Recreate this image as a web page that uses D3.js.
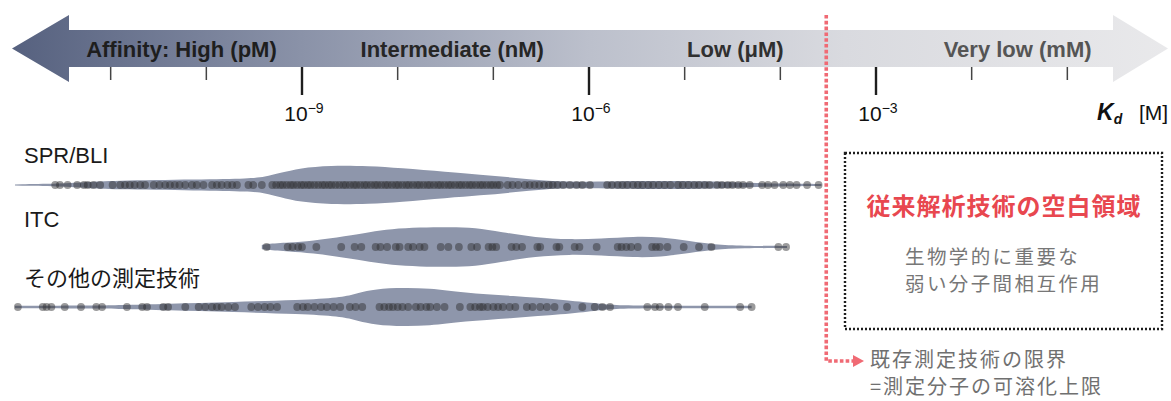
<!DOCTYPE html>
<html><head><meta charset="utf-8">
<script src="https://cdn.jsdelivr.net/npm/d3@7"></script>
<style>body{margin:0;background:#fff} svg{display:block}</style>
</head><body>
<svg id="chart" width="1171" height="401"></svg>
<script>
// ---- data (log10 Kd [M]) ----
const tickExponents = [-11,-10,-9,-8,-7,-6,-5,-4,-3,-2,-1];
const majorExponents = [-9,-6,-3];
const affinityLabels = ["Affinity: High (pM)", "Intermediate (nM)", "Low (μM)", "Very low (mM)"];
const affinityAnchors = [-10.26, -7.43, -4.47, -1.52];
const methods = ["SPR/BLI", "ITC", "その他の測定技術"];
const limitExponent = -3.52;

const sprDots = [-11.58,-11.53,-11.45,-11.35,-11.28,-11.24,-11.18,-11.11,-10.98,-10.90,-10.85,-10.80,-10.75,-10.69,-10.64,-10.55,-10.49,-10.43,-10.38,-10.33,-10.28,-10.22,-10.15,-10.10,-10.03,-9.94,-9.89,-9.84,-9.78,-9.73,-9.68,-9.56,-9.51,-9.42,
 -9.31,-9.27,-9.23,-9.20,-9.16,-9.12,-9.09,-9.05,-9.01,-8.98,-8.94,-8.91,-8.87,-8.83,-8.79,-8.76,-8.72,-8.69,-8.65,-8.61,-8.57,-8.54,-8.50,-8.46,-8.43,-8.39,-8.35,-8.32,-8.28,-8.24,-8.21,-8.17,-8.13,-8.10,-8.06,-8.02,-7.99,-7.95,-7.91,-7.88,-7.84,-7.80,-7.77,-7.73,-7.69,-7.66,-7.62,-7.58,-7.55,-7.51,-7.47,-7.44,-7.40,-7.36,-7.33,-7.29,-7.25,-7.22,-7.18,-7.14,-7.11,-7.07,-7.03,-7.00,-6.96,-6.93,
 -6.85,-6.80,-6.74,-6.67,-6.62,-6.57,-6.52,-6.47,-6.42,-6.38,-6.33,-6.27,-6.20,-6.13,-6.07,-5.99,-5.81,-5.76,-5.70,-5.65,-5.60,-5.54,-5.49,-5.44,-5.38,-5.33,-5.27,-5.21,-5.15,-5.07,-5.02,-4.96,-4.90,-4.85,-4.79,-4.74,-4.66,-4.61,-4.55,-4.50,-4.44,-4.39,-4.32,-4.19,-4.13,-4.06,-3.97,-3.90,-3.83,-3.72,-3.60];
const sprProfileLog = [-12.00,-11.53,-11.22,-11.01,-10.07,-9.54,-9.39,-9.23,-9.02,-8.71,-8.29,-7.98,-7.48,-7.14,-6.79,-6.46,-6.15,-5.68,-5.05,-4.63,-4.32,-4.01,-3.57];
const sprProfile    = [0.03,0.06,0.15,0.22,0.27,0.32,0.40,0.60,0.85,0.98,0.95,0.85,0.65,0.52,0.37,0.20,0.15,0.20,0.21,0.17,0.10,0.07,0.05];

const itcDots = [-9.37,-9.15,-9.10,-9.04,-9.00,-8.85,-8.59,-8.45,-8.38,-8.23,-8.18,-8.11,-8.02,-7.98,-7.89,-7.84,-7.77,-7.72,-7.55,-7.47,-7.36,-7.23,-7.17,-7.05,-7.01,-6.97,-6.81,-6.76,-6.70,-6.54,-6.51,-6.34,-6.31,-6.15,-6.10,-5.92,-5.70,-5.66,-5.61,-5.56,-5.49,-5.34,-5.30,-5.26,-5.18,-5.01,-4.85,-4.72,-4.02,-3.94];
const itcProfileLog = [-9.42,-9.39,-9.13,-8.90,-8.54,-8.29,-8.07,-7.77,-7.45,-7.19,-6.92,-6.56,-6.20,-5.88,-5.52,-5.26,-4.94,-4.69,-4.40,-3.93];
const itcProfile    = [0.10,0.15,0.22,0.30,0.55,0.75,0.90,0.98,1.00,0.97,0.75,0.47,0.37,0.42,0.52,0.50,0.30,0.12,0.06,0.05];

const otherDots = [-11.97,-11.71,-11.67,-11.62,-11.48,-11.31,-11.15,-11.09,-10.83,-10.67,-10.62,-10.45,-10.40,-10.22,-10.08,-10.01,-9.94,-9.89,-9.84,-9.77,-9.70,-9.53,-9.46,-9.39,-9.33,-9.26,-9.05,-8.99,-8.94,-8.87,-8.80,-8.74,-8.67,-8.60,-8.50,-8.44,-8.37,-8.19,-8.14,-8.09,-8.05,-8.00,-7.95,-7.89,-7.81,-7.76,-7.70,-7.66,-7.59,-7.51,-7.35,-7.24,-7.19,-7.14,-7.11,-7.06,-7.00,-6.95,-6.90,-6.83,-6.77,-6.65,-6.59,-6.51,-6.44,-6.36,-6.23,-6.07,-5.94,-5.86,-5.78,-5.39,-5.31,-5.26,-5.17,-5.07,-4.79,-4.42,-4.30];
const otherProfileLog = [-12.00,-11.11,-10.93,-10.41,-9.72,-9.02,-8.60,-8.45,-8.29,-8.03,-7.66,-7.32,-6.79,-6.27,-5.92,-5.75,-5.36,-4.30];
const otherProfile    = [0.06,0.075,0.09,0.165,0.25,0.35,0.47,0.65,0.85,0.97,0.95,0.72,0.55,0.37,0.18,0.09,0.065,0.06];

// ---- drawing ----
const svg = d3.select("#chart");
const x = d3.scaleLog().domain([1e-12, 1]).range([15, 1163]);
const X = e => x(Math.pow(10, e));
const w = d3.scaleLinear().domain([0, 1]).range([0, 20]);
const LAT = "'Liberation Sans', Arial, Helvetica, sans-serif";
const CJK = "'Noto Sans CJK JP', 'Noto Sans', sans-serif";

const defs = svg.append("defs");
const grad = defs.append("linearGradient").attr("id","arrowGrad").attr("x1","0%").attr("x2","100%");
[["0%","#56617f"],["25%","#8a92a8"],["50%","#bcc0cc"],["72%","#d9dadf"],["100%","#e9e9eb"]]
  .forEach(([o,c]) => grad.append("stop").attr("offset",o).attr("stop-color",c));

// double arrow
const yMid = 48.5, bodyH = 18.5, headH = 33.5;
const lTip = 12, lBase = 69, rBase = 1113, rTip = 1168;
svg.append("path")
  .attr("d", `M${lTip},${yMid} L${lBase},${yMid-headH} L${lBase},${yMid-bodyH} L${rBase},${yMid-bodyH} L${rBase},${yMid-headH} L${rTip},${yMid} L${rBase},${yMid+headH} L${rBase},${yMid+bodyH} L${lBase},${yMid+bodyH} L${lBase},${yMid+headH} Z`)
  .attr("fill","url(#arrowGrad)");

const labelColors = ["#1e1e1e","#262626","#303030","#555"];
svg.selectAll("text.aff").data(affinityLabels).join("text")
  .attr("class","aff")
  .attr("x",(d,i)=>X(affinityAnchors[i])).attr("y",57)
  .attr("text-anchor","middle")
  .attr("font-family",LAT).attr("font-weight","bold").attr("font-size",22)
  .attr("fill",(d,i)=>labelColors[i]).text(d=>d);

// ticks
const tickTop = yMid + bodyH;
svg.selectAll("line.tick").data(tickExponents).join("line")
  .attr("class","tick")
  .attr("x1",d=>X(d)).attr("x2",d=>X(d))
  .attr("y1",tickTop).attr("y2",d=>majorExponents.includes(d)? 95 : 80)
  .attr("stroke",d=>majorExponents.includes(d)? "#1e1e1e":"#444")
  .attr("stroke-width",d=>majorExponents.includes(d)? 2.4:1.5);

const tl = svg.selectAll("text.tl").data(majorExponents).join("text")
  .attr("class","tl")
  .attr("x",d=>X(d)+2).attr("y",121)
  .attr("text-anchor","middle")
  .attr("font-family",LAT).attr("font-size",21).attr("fill","#111");
tl.append("tspan").text("10");
tl.append("tspan").attr("font-size",14).attr("dy",-8).text(d=>"−"+(-d));

// Kd [M]
const kd = svg.append("text").attr("x",1097).attr("y",120)
  .attr("font-family",LAT).attr("fill","#111");
kd.append("tspan").attr("font-size",23).attr("font-style","italic").attr("font-weight","bold").text("K");
kd.append("tspan").attr("font-size",14).attr("font-style","italic").attr("font-weight","bold").attr("dy",4).text("d");
svg.append("text").attr("x",1139).attr("y",120).attr("font-family",LAT).attr("font-size",21).attr("fill","#111").text("[M]");

// violins
const rows = [
  {name: methods[0], cy: 185, ly: 163, dots: sprDots, pl: sprProfileLog, pv: sprProfile},
  {name: methods[1], cy: 247, ly: 227, dots: itcDots, pl: itcProfileLog, pv: itcProfile},
  {name: methods[2], cy: 307, ly: 286, dots: otherDots, pl: otherProfileLog, pv: otherProfile}
];
rows.forEach(r => {
  const prof = r.pl.map((l,i)=>[l, r.pv[i]]);
  const area = d3.area().x(d=>X(d[0])).y0(d=>r.cy - w(d[1])).y1(d=>r.cy + w(d[1])).curve(d3.curveBasis);
  svg.append("path").datum(prof).attr("d",area).attr("fill","#8e96ab");
  svg.append("g").selectAll("circle").data(r.dots).join("circle")
    .attr("cx",d=>X(d)).attr("cy",r.cy).attr("r",3.9)
    .attr("fill","#2e2e31").attr("fill-opacity",0.48);
  svg.append("text").attr("x",24).attr("y",r.ly)
    .attr("font-family", /[^\x00-\x7f]/.test(r.name) ? CJK : LAT)
    .attr("font-size",22).attr("fill","#1a1a1a").text(r.name);
});

// limit line
const lx = X(limitExponent);
svg.append("path").attr("d",`M${lx},15 V361 H853`)
  .attr("fill","none").attr("stroke","#f06a74").attr("stroke-width",3.6).attr("stroke-dasharray","3.6 2.2");
svg.append("path").attr("d","M853,355 L864,361 L853,367 Z").attr("fill","#f06a74");

// box
svg.append("rect").attr("x",845).attr("y",153).attr("width",317).attr("height",176)
  .attr("fill","none").attr("stroke","#1e1e1e").attr("stroke-width",2.4).attr("stroke-dasharray","2 2");
svg.append("text").attr("x",1004).attr("y",215).attr("text-anchor","middle")
  .attr("font-family",CJK).attr("font-weight","bold").attr("font-size",24).attr("letter-spacing",1)
  .attr("fill","#e8474f").text("従来解析技術の空白領域");
const grayLines = ["生物学的に重要な","弱い分子間相互作用"];
svg.selectAll("text.gl").data(grayLines).join("text").attr("class","gl")
  .attr("x",905).attr("y",(d,i)=>264+i*27)
  .attr("font-family",CJK).attr("font-size",19.5).attr("letter-spacing",2.4)
  .attr("fill","#777").text(d=>d);
const noteLines = ["既存測定技術の限界","=測定分子の可溶化上限"];
svg.selectAll("text.nl").data(noteLines).join("text").attr("class","nl")
  .attr("x",870).attr("y",(d,i)=>367+i*27)
  .attr("font-family",CJK).attr("font-size",20).attr("letter-spacing",2)
  .attr("fill","#707070").text(d=>d);
</script>
</body></html>
